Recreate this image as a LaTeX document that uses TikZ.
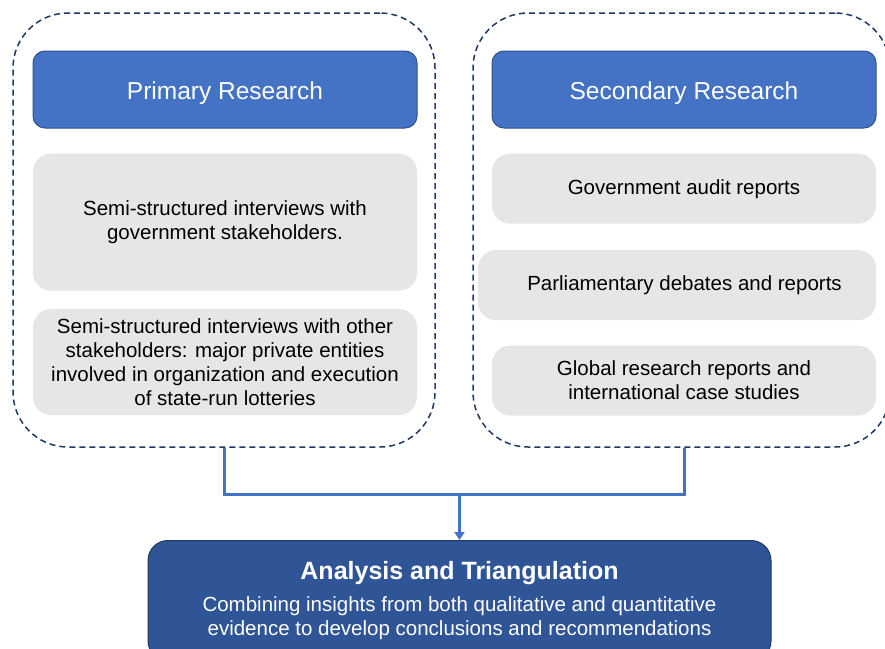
\documentclass[tikz,border=0pt]{standalone}
\usepackage{fontspec}
\setmainfont{Liberation Sans}
\usetikzlibrary{positioning}
\usetikzlibrary{arrows.meta}

\definecolor{headblue}{HTML}{4472C4}
\definecolor{headedge}{HTML}{2F528F}
\definecolor{itemgray}{HTML}{E6E6E6}
\definecolor{dashnavy}{HTML}{203864}
\definecolor{anablue}{HTML}{2F5597}
\definecolor{anaedge}{HTML}{1F3864}

\begin{document}
\begin{tikzpicture}[x=1pt,y=-1pt,
         header/.style = {draw=headedge, fill=headblue, text=white, line width=1pt,
      rounded corners=12pt, minimum width=384pt, minimum height=77pt,
      text height=22pt, text depth=3pt, font=\fontsize{24.5}{28}\selectfont},
         item/.style = {fill=itemgray, rounded corners=18pt, minimum width=384pt,
      align=center, font=\fontsize{20.5}{24}\selectfont},
         group/.style = {draw=dashnavy, line width=1.5pt, dash pattern=on 6pt off 4pt,
      rounded corners=55pt, minimum height=434pt},
         link/.style = {draw=headblue, line width=3pt}]

      \clip (0,0) rectangle (885,648);

      % dashed groups
      \node[group, minimum width=422pt] (pgroup) at (224,230) {};
      \node[group, minimum width=417pt] (sgroup) at (681.5,230) {};

      % primary research
      \node[header] (prim) at (225,89.5) {Primary Research};
      \node[item, minimum height=137pt, below=25pt of prim] (pone)
      {Semi-structured interviews with\\government stakeholders.};
      \node[item, minimum height=106pt, below=18pt of pone] (ptwo)
      {Semi-structured interviews with other\\stakeholders: major private entities\\
      involved in organization and execution\\of state-run lotteries};

      % secondary research
      \node[header] (sec) at (684,89.5) {Secondary Research};
      \node[item, minimum height=70pt, below=25pt of sec] (sone)
      {Government audit reports};
      \node[item, minimum height=70pt, minimum width=398pt,
      below=26pt of sone, xshift=-7pt] (stwo)
      {\hspace*{15pt}Parliamentary debates and reports};
      \node[item, minimum height=70pt, below=25pt of stwo, xshift=7pt] (sthree)
      {Global research reports and\\international case studies};

      % analysis
      \node[fill=anablue, draw=anaedge, line width=1pt, rounded corners=20pt,
      text=white, align=center, minimum width=623pt, inner ysep=21pt,
      anchor=north, font=\fontsize{20.5}{24}\selectfont] (ana) at (459.5,540)
      {{\fontsize{25}{29}\selectfont\bfseries Analysis and Triangulation}\\[8pt]
      Combining insights from both qualitative and quantitative\\
      evidence to develop conclusions and recommendations};

      % connectors
      \coordinate (join) at (459.5,494);
      \draw[link] (pgroup.south) |- (join) -| (sec.south |- sgroup.south);
      \draw[link, -{Triangle[width=10pt,length=8pt]}] (join) -- (ana.north);

\end{tikzpicture}
\end{document}
